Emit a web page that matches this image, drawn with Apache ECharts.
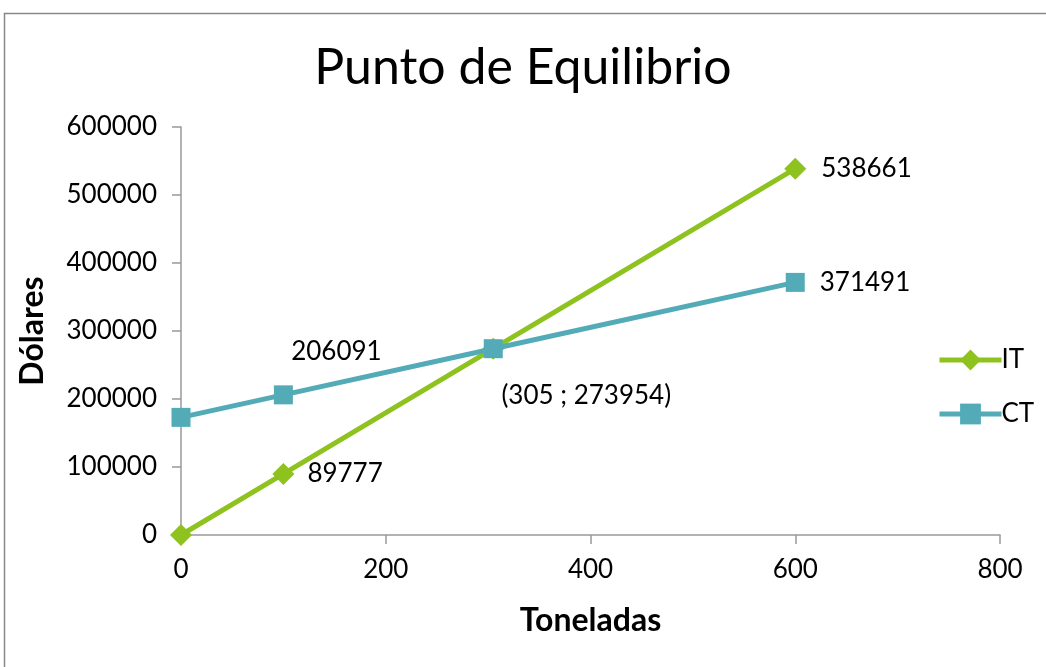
<!DOCTYPE html>
<html><head><meta charset="utf-8">
<script src="https://cdn.jsdelivr.net/npm/echarts@6/dist/echarts.min.js"></script>
<style>html,body{margin:0;padding:0;background:#fff}#c{width:1046px;height:667px}</style>
</head><body><div id="c"></div>
<script>
var toneladas = [0, 100, 305, 600];
var itValues = [0, 89777, 273954, 538661];
var ctValues = [172991, 206091, 273954, 371491];
var itLabels = [null, '89777', '(305 ; 273954)', '538661'];
var ctLabels = [null, '206091', null, '371491'];
var xTicks = [0, 200, 400, 600, 800];
var yTicks = [0, 100000, 200000, 300000, 400000, 500000, 600000];

var FONT = 'Lato, "DejaVu Sans", sans-serif';
var FS = 26;
var itLabelStyle = [null,
  {position: 'right', offset: [8, 0]},
  {position: 'bottom', offset: [93, 18]},
  {position: 'right', offset: [10, 0]}];
var ctLabelStyle = [null,
  {position: 'top', offset: [53, -16]},
  null,
  {position: 'right', offset: [10, 0]}];

function build(vals, labels, styles) {
  return vals.map(function (v, i) {
    var item = {value: [toneladas[i], v]};
    if (labels[i]) {
      item.label = Object.assign({show: true, formatter: labels[i], color: '#000', fontSize: FS, fontFamily: FONT}, styles[i]);
    }
    return item;
  });
}

var chart = echarts.init(document.getElementById('c'));
chart.setOption({
  animation: false,
  backgroundColor: '#fff',
  graphic: [{type: 'rect', shape: {x: 4.5, y: 13.5, width: 1100, height: 700}, style: {fill: 'none', stroke: '#888', lineWidth: 1.5}}],
  title: {text: 'Punto de Equilibrio', left: 'center', top: 38, textStyle: {fontSize: 50, fontWeight: 'normal', color: '#000', fontFamily: FONT}},
  grid: {left: 181, right: 46, top: 127, bottom: 132},
  legend: {
    orient: 'vertical', left: 932, top: 342, itemGap: 28, itemWidth: 62, itemHeight: 26,
    lineStyle: {width: 5},
    textStyle: {fontSize: FS, color: '#000', fontFamily: FONT, padding: [0, 0, 0, -5]},
    data: ['IT', 'CT']
  },
  xAxis: {
    type: 'value', min: 0, max: 800, interval: 200,
    name: 'Toneladas', nameLocation: 'middle', nameGap: 70,
    nameTextStyle: {fontSize: 32, fontWeight: 'bold', color: '#000', fontFamily: FONT},
    axisLine: {show: true, lineStyle: {color: '#999', width: 1.5}},
    axisTick: {show: true, length: 9, lineStyle: {color: '#999', width: 1.5}},
    axisLabel: {fontSize: FS, color: '#000', margin: 22, fontFamily: FONT},
    splitLine: {show: false}
  },
  yAxis: {
    type: 'value', min: 0, max: 600000, interval: 100000,
    name: 'Dólares', nameLocation: 'middle', nameGap: 132,
    nameTextStyle: {fontSize: 32, fontWeight: 'bold', color: '#000', fontFamily: FONT},
    axisLine: {show: true, lineStyle: {color: '#999', width: 1.5}},
    axisTick: {show: true, length: 9, lineStyle: {color: '#999', width: 1.5}},
    axisLabel: {fontSize: FS, color: '#000', margin: 24, fontFamily: FONT, formatter: function (v) { return String(v); }},
    splitLine: {show: false}
  },
  series: [
    {name: 'IT', type: 'line', data: build(itValues, itLabels, itLabelStyle),
     symbol: 'diamond', symbolSize: 22, showAllSymbol: true,
     itemStyle: {color: '#8dc21f'}, lineStyle: {color: '#8dc21f', width: 5}, z: 3},
    {name: 'CT', type: 'line', data: build(ctValues, ctLabels, ctLabelStyle),
     symbol: 'rect', symbolSize: 19, showAllSymbol: true,
     itemStyle: {color: '#52abb6'}, lineStyle: {color: '#52abb6', width: 5}, z: 4}
  ]
});
</script></body></html>
